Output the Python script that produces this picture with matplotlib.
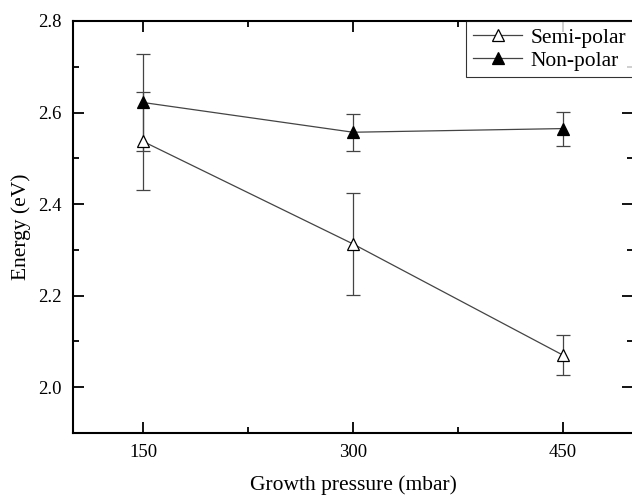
import numpy as np
import matplotlib.pyplot as plt
from matplotlib.ticker import MultipleLocator

plt.rcParams['font.family'] = ['Liberation Serif', 'DejaVu Serif']

pressure = [150, 300, 450]
semi_polar = [2.537, 2.313, 2.070]
semi_err = [0.107, 0.112, 0.043]
non_polar = [2.622, 2.557, 2.565]
non_err = [0.107, 0.040, 0.037]

fig = plt.figure(figsize=(6.32, 4.95), dpi=100)
ax = fig.add_axes([73 / 632, 62 / 495, 560 / 632, 412 / 495])

ax.errorbar(pressure, semi_polar, yerr=semi_err, color='#444444', lw=0.9,
            marker='^', ms=9, mfc='white', mec='black', mew=0.9,
            capsize=5, elinewidth=0.9, capthick=0.9, label='Semi-polar')
ax.errorbar(pressure, non_polar, yerr=non_err, color='#444444', lw=0.9,
            marker='^', ms=9, mfc='black', mec='black', mew=0.9,
            capsize=5, elinewidth=0.9, capthick=0.9, label='Non-polar')

ax.set_xlim(100, 500)
ax.set_ylim(1.9, 2.8)
ax.set_xticks(pressure)
ax.xaxis.set_minor_locator(MultipleLocator(75))
ax.set_yticks([2.0, 2.2, 2.4, 2.6, 2.8])
ax.yaxis.set_minor_locator(MultipleLocator(0.1))
ax.tick_params(which='both', direction='in', top=True, right=True, labelsize=13.5, width=1.3)
ax.tick_params(which='major', length=8, pad=8)
ax.tick_params(which='minor', length=4)
for s in ax.spines.values():
    s.set_linewidth(1.5)
ax.spines['right'].set_visible(False)

ax.set_xlabel('Growth pressure (mbar)', fontsize=15.5, labelpad=10)
ax.set_ylabel('Energy (eV)', fontsize=15.5, labelpad=5)

handles, labels = ax.get_legend_handles_labels()
handles = [h[0] for h in handles]
leg = ax.legend(handles, labels, loc='upper right', fontsize=15.5, frameon=True,
                fancybox=False, edgecolor='black', borderaxespad=0,
                handlelength=2.3, handletextpad=0.4, borderpad=0.3, labelspacing=0.15)
leg.get_frame().set_linewidth(0.8)

fig.savefig('out.png', dpi=100)
